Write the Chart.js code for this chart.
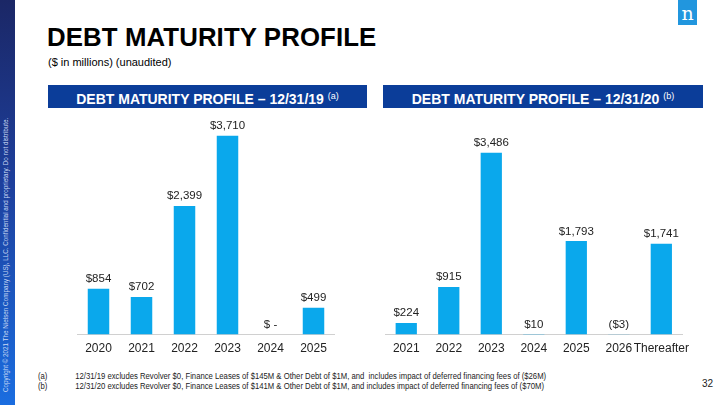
<!DOCTYPE html>
<html>
<head>
<meta charset="utf-8">
<script src="https://cdn.jsdelivr.net/npm/chart.js@4.4.0/dist/chart.umd.min.js"></script>
<style>
  body { margin: 0; width: 720px; height: 405px; background: #fff; position: relative; overflow: hidden; font-family: "Liberation Sans", Arial, sans-serif; }
  .sidebar { position: absolute; left: 0; top: 0; width: 15px; height: 405px; background: linear-gradient(to bottom, #1b2766 0%, #1d3f9c 45%, #1a6de0 100%); }
  .sidebar span { position: absolute; left: 7px; bottom: 6px; transform-origin: 0 0; transform: rotate(-90deg) translate(0, -5px); white-space: nowrap; color: #c9d8f5; font-size: 6.3px; }
  .logo { position: absolute; left: 678px; top: 0; width: 19px; height: 25px; background: #2196de; color: #fff; font-family: "DejaVu Serif", serif; font-size: 19px; text-align: center; line-height: 27px; }
  h1 { position: absolute; left: 47px; top: 23px; margin: 0; font-size: 25.8px; font-weight: bold; color: #000; letter-spacing: 0.1px; }
  .sub { position: absolute; left: 48px; top: 56px; font-size: 11px; color: #000; }
  .hdr { position: absolute; top: 85px; height: 23px; background: #0b3d99; color: #fff; font-weight: bold; font-size: 14px; text-align: center; line-height: 23px; }
  .hdr sup { font-weight: normal; font-size: 9px; vertical-align: 5px; }
  .box { position: absolute; }
  .notes { position: absolute; left: 38px; top: 371px; font-size: 8.3px; color: #222; line-height: 10px; transform-origin: 0 0; transform: scaleX(0.93); white-space: nowrap; }
  .notes div span { display: inline-block; width: 40px; }
  .page { position: absolute; left: 702px; top: 378px; font-size: 10px; color: #222; }
</style>
</head>
<body>
<div class="sidebar"><span>Copyright © 2021 The Nielsen Company (US), LLC. Confidential and proprietary. Do not distribute.</span></div>
<div class="logo">n</div>
<h1>DEBT MATURITY PROFILE</h1>
<div class="sub">($ in millions) (unaudited)</div>
<div class="hdr" style="left:48px; width:319px;">DEBT MATURITY PROFILE – 12/31/19 <sup>(a)</sup></div>
<div class="hdr" style="left:383px; width:320px;">DEBT MATURITY PROFILE – 12/31/20 <sup>(b)</sup></div>
<div class="box" style="left:77px; top:110px; width:258px; height:253px;"><canvas id="chart19"></canvas></div>
<div class="box" style="left:385px; top:110px; width:311px; height:253px;"><canvas id="chart20"></canvas></div>
<div class="notes">
  <div><span>(a)</span>12/31/19 excludes Revolver $0, Finance Leases of $145M &amp; Other Debt of $1M, and&nbsp; includes impact of deferred financing fees of ($26M)</div>
  <div><span>(b)</span>12/31/20 excludes Revolver $0, Finance Leases of $141M &amp; Other Debt of $1M, and includes impact of deferred financing fees of ($70M)</div>
</div>
<div class="page">32</div>
<script>
// Data
const years19 = ['2020', '2021', '2022', '2023', '2024', '2025'];
const values19 = [854, 702, 2399, 3710, 0, 499];
const labels19 = ['$854', '$702', '$2,399', '$3,710', '$ -', '$499'];

const years20 = ['2021', '2022', '2023', '2024', '2025', '2026', 'Thereafter'];
const values20 = [224, 915, 3486, 10, 1793, -3, 1741];
const labels20 = ['$224', '$915', '$3,486', '$10', '$1,793', '($3)', '$1,741'];

const barColor = '#0aa8ec';

// Draw value labels above each bar
const valueLabels = {
  id: 'valueLabels',
  afterDatasetsDraw(chart, args, opts) {
    const ctx = chart.ctx;
    const meta = chart.getDatasetMeta(0);
    const yScale = chart.scales.y;
    ctx.save();
    ctx.font = '11.5px "Liberation Sans", Arial, sans-serif';
    ctx.fillStyle = '#222';
    ctx.textAlign = 'center';
    ctx.textBaseline = 'bottom';
    meta.data.forEach((bar, i) => {
      const v = chart.data.datasets[0].data[i];
      const top = yScale.getPixelForValue(Math.max(v, 0));
      ctx.fillText(opts.texts[i], bar.x, top - 4);
    });
    ctx.restore();
  }
};

function makeChart(id, cats, vals, texts, yMax) {
  return new Chart(document.getElementById(id), {
    type: 'bar',
    data: {
      labels: cats,
      datasets: [{
        data: vals,
        backgroundColor: barColor,
        categoryPercentage: 1,
        barPercentage: 0.5
      }]
    },
    options: {
      responsive: true,
      maintainAspectRatio: false,
      animation: false,
      layout: { padding: 0 },
      plugins: {
        legend: { display: false },
        tooltip: { enabled: false },
        valueLabels: { texts: texts }
      },
      scales: {
        x: {
          grid: { display: false, drawTicks: false },
          border: { color: '#d0d0d0', width: 1 },
          ticks: {
            color: '#222',
            font: { size: 12, family: '"Liberation Sans", Arial, sans-serif' },
            padding: 7,
            maxRotation: 0,
            minRotation: 0,
            autoSkip: false
          }
        },
        y: { display: false, min: 0, max: yMax }
      }
    },
    plugins: [valueLabels]
  });
}

makeChart('chart19', years19, values19, labels19, 4192);
makeChart('chart20', years20, values20, labels20, 4307);
</script>
</body>
</html>
